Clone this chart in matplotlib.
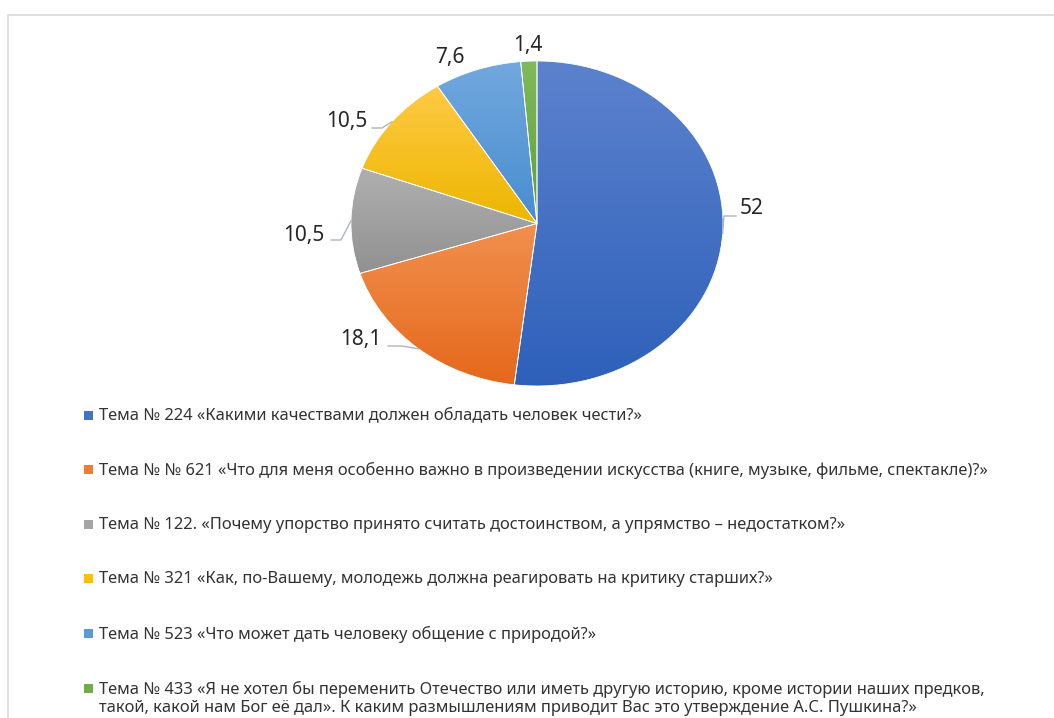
import matplotlib.pyplot as plt
import numpy as np
from matplotlib import transforms
from matplotlib.colors import LinearSegmentedColormap
from matplotlib.lines import Line2D
from matplotlib.patches import Rectangle

plt.rcParams['font.family'] = ['Noto Sans', 'DejaVu Sans']

values = [52, 18.1, 10.5, 10.5, 7.6, 1.4]
value_labels = ["52", "18,1", "10,5", "10,5", "7,6", "1,4"]
topics = [
    "Тема № 224 «Какими качествами должен обладать человек чести?»",
    "Тема № № 621 «Что для меня особенно важно в произведении искусства (книге, музыке, фильме, спектакле)?»",
    "Тема № 122. «Почему упорство принято считать достоинством, а упрямство – недостатком?»",
    "Тема № 321 «Как, по-Вашему, молодежь должна реагировать на критику старших?»",
    "Тема № 523 «Что может дать человеку общение с природой?»",
    "Тема № 433 «Я не хотел бы переменить Отечество или иметь другую историю, кроме истории наших предков,\n"
    "такой, какой нам Бог её дал». К каким размышлениям приводит Вас это утверждение А.С. Пушкина?»",
]
colors = ["#4472C4", "#ED7D31", "#A5A5A5", "#FFC000", "#5B9BD5", "#70AD47"]
colors_top = ["#5C82CD", "#F1904F", "#B0B0B0", "#FFCA45", "#72A8DE", "#80BA5C"]
colors_bottom = ["#2E60BA", "#E5681B", "#919191", "#ECB600", "#488DCF", "#5F9E38"]

W, H = 1054, 718
TEXT = "#333333"

# pie box in pixels (left, top, width, height)
PIE_L, PIE_T, PIE_W, PIE_H = 351, 61, 372, 325

# label centres and leader bends in pixels from the top-left corner
label_pos = [(752, 209), (361, 339), (304, 235), (347, 122), (450, 58), (528, 45)]
leaders = [
    [(724, 216), (736, 216)],
    [(402, 346), (388, 346)],
    [(341, 240), (331, 240)],
    [(382, 128), (372, 128)],
    None,
    None,
]

fig = plt.figure(figsize=(W / 100, H / 100), dpi=100)
px = transforms.Affine2D().scale(1 / W, -1 / H).translate(0, 1) + fig.transFigure

# chart area border
fig.add_artist(Line2D([8, 8, W], [H, 15, 15], transform=px, color="#D9D9D9", lw=1.2))

ax = fig.add_axes([PIE_L / W, 1 - (PIE_T + PIE_H) / H, PIE_W / W, PIE_H / H])
wedges, _ = ax.pie(values, startangle=90, counterclock=False, colors=colors,
                   wedgeprops=dict(edgecolor="white", linewidth=0.6))

grad = np.linspace(0, 1, 256).reshape(-1, 1)
for w, ct, cb in zip(wedges, colors_top, colors_bottom):
    bb = w.get_path().get_extents()
    cmap = LinearSegmentedColormap.from_list("g", [cb, ct])
    im = ax.imshow(grad, cmap=cmap, extent=(bb.x0, bb.x1, bb.y0, bb.y1),
                   origin="lower", aspect="auto", interpolation="bilinear", zorder=0.5)
    im.set_clip_path(w)
    w.set_facecolor("none")

ax.set_aspect("auto")
ax.set_xlim(-1, 1)
ax.set_ylim(-1, 1)
ax.axis("off")


def to_px(x, y):
    return PIE_L + (x + 1) / 2 * PIE_W, PIE_T + (1 - y) / 2 * PIE_H


for w, lab, pos, lead in zip(wedges, value_labels, label_pos, leaders):
    mid = np.deg2rad((w.theta1 + w.theta2) / 2)
    anchor = to_px(np.cos(mid), np.sin(mid))
    if lead:
        pts = [anchor] + lead
        fig.add_artist(Line2D([p[0] for p in pts], [p[1] for p in pts],
                              transform=px, color="#A9B5C6", lw=1))
    fig.text(pos[0], pos[1], lab, transform=px, ha="center", va="center",
             fontsize=15, color="#262626")

# legend
row0, step = 415, 54.6
for i, (topic, c) in enumerate(zip(topics, colors)):
    y = row0 + i * step
    fig.add_artist(Rectangle((84, y - 4.5), 9, 9, transform=px, color=c, lw=0))
    fig.text(99, y - 7.5, topic, transform=px, ha="left", va="top",
             fontsize=11.9, color=TEXT, linespacing=1.22)

fig.savefig("out.png", dpi=100)
